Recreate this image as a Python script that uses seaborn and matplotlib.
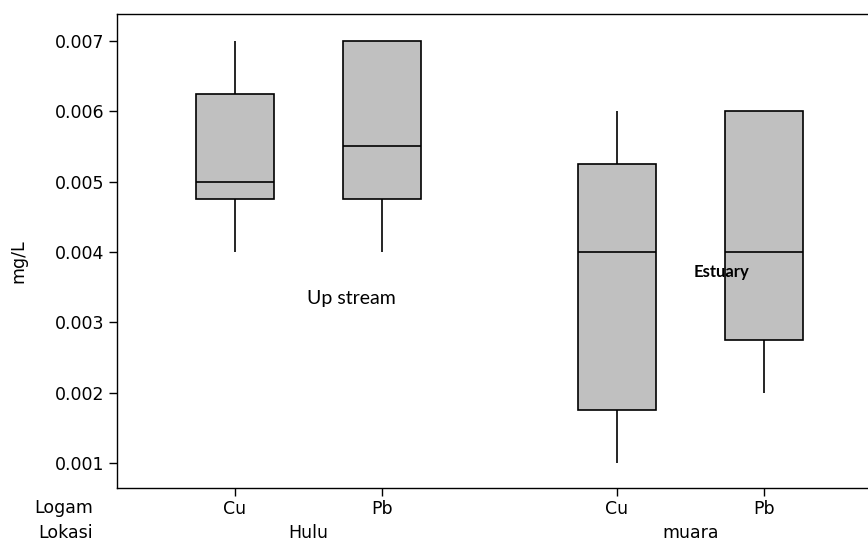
import numpy as np
import pandas as pd
import matplotlib
matplotlib.use("Agg")
import matplotlib.pyplot as plt
import matplotlib.transforms as mtransforms
import seaborn as sns

# Data (five points per box so quartiles land on the drawn edges)
lokasi = ["Hulu", "muara"]
logam = ["Cu", "Pb"]
hulu_cu = [0.004, 0.00475, 0.005, 0.00625, 0.007]
hulu_pb = [0.004, 0.00475, 0.0055, 0.007, 0.007]
muara_cu = [0.001, 0.00175, 0.004, 0.00525, 0.006]
muara_pb = [0.002, 0.00275, 0.004, 0.006, 0.006]

series = {("Hulu", "Cu"): hulu_cu, ("Hulu", "Pb"): hulu_pb,
          ("muara", "Cu"): muara_cu, ("muara", "Pb"): muara_pb}

# x positions (layout): wider gap between the two locations
xpos = {("Hulu", "Cu"): 1.0, ("Hulu", "Pb"): 2.0,
        ("muara", "Cu"): 3.6, ("muara", "Pb"): 4.6}

rows = []
for key, vals in series.items():
    for v in vals:
        rows.append({"Lokasi": key[0], "Logam": key[1], "x": xpos[key], "mg/L": v})
df = pd.DataFrame(rows)

plt.rcParams['font.family'] = ['DejaVu Sans']

fig = plt.figure(figsize=(8.68, 5.43), dpi=100)
ax = fig.add_axes([117 / 868, 1 - 487.7 / 543, 1 - 117 / 868, (487.7 - 14) / 543])

sns.boxplot(data=df, x="x", y="mg/L", native_scale=True, width=0.53,
            color="#c0c0c0", saturation=1, linecolor="black", linewidth=1.2,
            whis=(0, 100), showcaps=False, fliersize=0, ax=ax)

ax.set_xlim(0.2, 0.2 + 751 / 147)
ax.set_ylim(0.000653, 0.00738)
ax.set_yticks([0.001, 0.002, 0.003, 0.004, 0.005, 0.006, 0.007])
ax.set_yticklabels(["0.001", "0.002", "0.003", "0.004", "0.005", "0.006", "0.007"])
ax.set_xticks([xpos[k] for k in series])
ax.set_xticklabels([k[1] for k in series])
ax.set_xlabel("")
ax.set_ylabel("")
ax.tick_params(direction="out", length=6, width=1, labelsize=12.5, pad=3, colors="black")
for s in ["left", "bottom", "top"]:
    ax.spines[s].set_linewidth(1)
    ax.spines[s].set_color("black")
ax.spines["right"].set_visible(False)

fig.text(18 / 868, 1 - 261 / 543, "mg/L", rotation=90, ha="center", va="center", fontsize=12.5)
fig.text(93 / 868, 1 - 508 / 543, "Logam", ha="right", va="center", fontsize=12.5)
fig.text(93 / 868, 1 - 532.5 / 543, "Lokasi", ha="right", va="center", fontsize=12.5)

trans = mtransforms.blended_transform_factory(ax.transData, fig.transFigure)
for loc in lokasi:
    cx = np.mean([xpos[(loc, m)] for m in logam])
    ax.text(cx, 1 - 532.5 / 543, loc, transform=trans, ha="center", va="center", fontsize=12.5)

ax.text(1.493, 0.003345, "Up stream", ha="left", va="center", fontsize=14, family="Lato")
ax.text(4.125, 0.003714, "Estuary", ha="left", va="center", fontsize=12,
        family="Lato", fontweight="bold")

fig.savefig("out.png", dpi=100)
